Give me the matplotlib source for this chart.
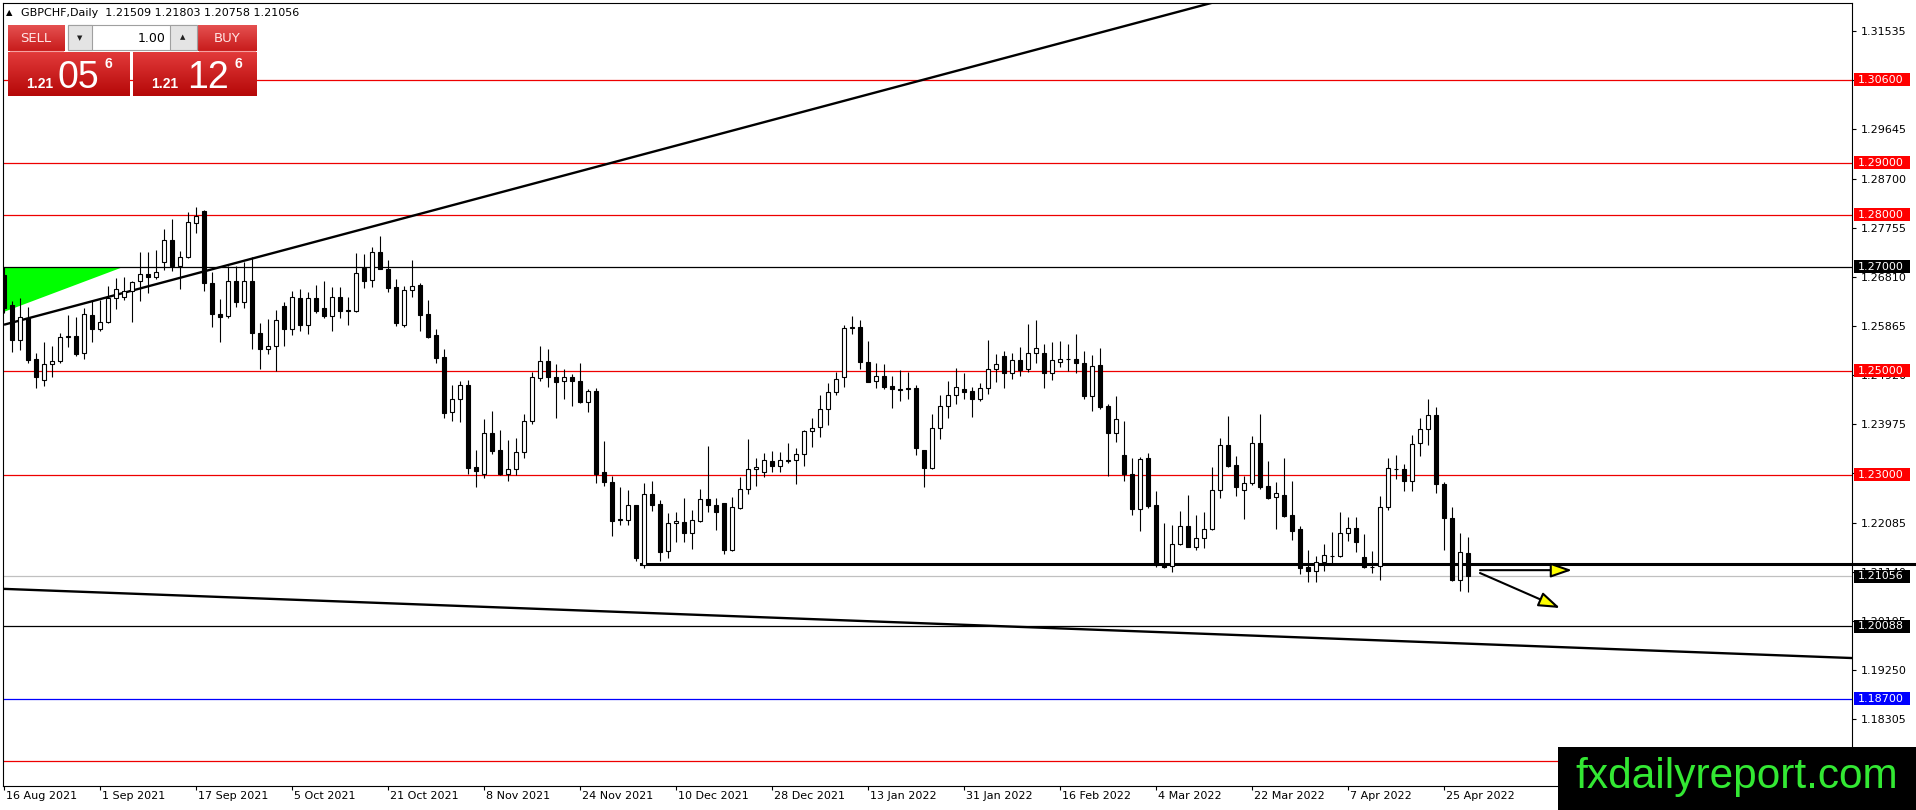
import matplotlib
matplotlib.use("Agg")
import matplotlib.pyplot as plt
import matplotlib.transforms as mtransforms
import matplotlib.colors as mcolors
from matplotlib.patches import Rectangle, Polygon
import numpy as np

# ---------------- data ----------------
opens = [1.2685, 1.2627, 1.2560, 1.2601, 1.2524, 1.2483, 1.2514, 1.2519, 1.2566, 1.2567,
         1.2534, 1.2608, 1.2580, 1.2594, 1.2641, 1.2642, 1.2654, 1.2674, 1.2687, 1.2681,
         1.2709, 1.2752, 1.2701, 1.2719, 1.2785, 1.2808, 1.2669, 1.2609, 1.2606, 1.2674,
         1.2632, 1.2673, 1.2574, 1.2542, 1.2548, 1.2625, 1.2580, 1.2640, 1.2588, 1.2640,
         1.2621, 1.2605, 1.2642, 1.2616, 1.2616, 1.2699, 1.2675, 1.2728, 1.2697, 1.2661,
         1.2589, 1.2656, 1.2665, 1.2609, 1.2569, 1.2526, 1.2421, 1.2446, 1.2473, 1.2315,
         1.2301, 1.2380, 1.2348, 1.2301, 1.2311, 1.2344, 1.2403, 1.2486, 1.2519, 1.2488,
         1.2481, 1.2489, 1.2481, 1.2441, 1.2462, 1.2306, 1.2286, 1.2214, 1.2213, 1.2242,
         1.2127, 1.2263, 1.2244, 1.2153, 1.2207, 1.2209, 1.2188, 1.2212, 1.2253, 1.2242,
         1.2246, 1.2156, 1.2237, 1.2274, 1.2311, 1.2305, 1.2327, 1.2318, 1.2327, 1.2328,
         1.2340, 1.2385, 1.2393, 1.2426, 1.2459, 1.2489, 1.2583, 1.2584, 1.2517, 1.2481,
         1.2491, 1.2471, 1.2465, 1.2467, 1.2467, 1.2348, 1.2313, 1.2390, 1.2433, 1.2454,
         1.2465, 1.2462, 1.2447, 1.2467, 1.2503, 1.2529, 1.2497, 1.2521, 1.2503, 1.2534,
         1.2534, 1.2497, 1.2518, 1.2523, 1.2524, 1.2515, 1.2451, 1.2512, 1.2433, 1.2380,
         1.2338, 1.2301, 1.2234, 1.2332, 1.2242, 1.2129, 1.2125, 1.2167, 1.2202, 1.2162,
         1.2179, 1.2196, 1.2271, 1.2358, 1.2319, 1.2271, 1.2284, 1.2361, 1.2279, 1.2257,
         1.2262, 1.2223, 1.2196, 1.2124, 1.2116, 1.2132, 1.2145, 1.2145, 1.2188, 1.2199,
         1.2142, 1.2124, 1.2125, 1.2239, 1.2312, 1.2311, 1.2289, 1.2361, 1.2388, 1.2415,
         1.2282, 1.2217, 1.2098, 1.21509]
highs = [1.2700, 1.2634, 1.2640, 1.2624, 1.2535, 1.2556, 1.2548, 1.2574, 1.2608, 1.2603,
         1.2622, 1.2637, 1.2637, 1.2663, 1.2679, 1.2681, 1.2674, 1.2729, 1.2729, 1.2733,
         1.2774, 1.2793, 1.2731, 1.2806, 1.2815, 1.2810, 1.2690, 1.2639, 1.2701, 1.2701,
         1.2710, 1.2719, 1.2592, 1.2600, 1.2617, 1.2633, 1.2653, 1.2658, 1.2651, 1.2665,
         1.2673, 1.2662, 1.2661, 1.2643, 1.2726, 1.2725, 1.2739, 1.2760, 1.2713, 1.2677,
         1.2664, 1.2713, 1.2669, 1.2637, 1.2580, 1.2542, 1.2473, 1.2481, 1.2483, 1.2349,
         1.2408, 1.2423, 1.2387, 1.2367, 1.2371, 1.2417, 1.2499, 1.2548, 1.2542, 1.2513,
         1.2504, 1.2494, 1.2515, 1.2465, 1.2467, 1.2365, 1.2299, 1.2276, 1.2271, 1.2243,
         1.2284, 1.2288, 1.2252, 1.2226, 1.2228, 1.2255, 1.2233, 1.2274, 1.2356, 1.2255,
         1.2247, 1.2257, 1.2296, 1.2369, 1.2333, 1.2343, 1.2346, 1.2344, 1.2361, 1.2351,
         1.2387, 1.2409, 1.2453, 1.2476, 1.2499, 1.2588, 1.2606, 1.2598, 1.2558, 1.2515,
         1.2513, 1.2490, 1.2502, 1.2499, 1.2473, 1.2349, 1.2417, 1.2454, 1.2481, 1.2505,
         1.2496, 1.2470, 1.2476, 1.2560, 1.2532, 1.2539, 1.2534, 1.2546, 1.2590, 1.2598,
         1.2552, 1.2556, 1.2558, 1.2552, 1.2571, 1.2538, 1.2531, 1.2544, 1.2436, 1.2451,
         1.2404, 1.2332, 1.2335, 1.2343, 1.2270, 1.2208, 1.2204, 1.2231, 1.2262, 1.2223,
         1.2228, 1.2316, 1.2372, 1.2414, 1.2337, 1.2299, 1.2375, 1.2417, 1.2326, 1.2286,
         1.2332, 1.2288, 1.2201, 1.2156, 1.2144, 1.2167, 1.2191, 1.2228, 1.2219, 1.2219,
         1.2186, 1.2154, 1.2260, 1.2332, 1.2338, 1.2322, 1.2377, 1.2410, 1.2446, 1.2431,
         1.2287, 1.2238, 1.2188, 1.21803]
lows = [1.2612, 1.2537, 1.2540, 1.2515, 1.2468, 1.2472, 1.2488, 1.2515, 1.2547, 1.2528,
        1.2524, 1.2556, 1.2577, 1.2592, 1.2620, 1.2637, 1.2595, 1.2634, 1.2650, 1.2676,
        1.2695, 1.2692, 1.2658, 1.2717, 1.2765, 1.2653, 1.2584, 1.2556, 1.2601, 1.2624,
        1.2622, 1.2542, 1.2503, 1.2533, 1.2500, 1.2549, 1.2569, 1.2576, 1.2571, 1.2611,
        1.2601, 1.2576, 1.2601, 1.2588, 1.2614, 1.2660, 1.2662, 1.2696, 1.2651, 1.2587,
        1.2585, 1.2643, 1.2576, 1.2564, 1.2515, 1.2410, 1.2403, 1.2401, 1.2301, 1.2276,
        1.2294, 1.2340, 1.2300, 1.2289, 1.2300, 1.2332, 1.2398, 1.2481, 1.2470, 1.2410,
        1.2446, 1.2433, 1.2438, 1.2421, 1.2284, 1.2278, 1.2183, 1.2204, 1.2204, 1.2135,
        1.2122, 1.2231, 1.2135, 1.2140, 1.2172, 1.2172, 1.2158, 1.2210, 1.2229, 1.2194,
        1.2149, 1.2154, 1.2235, 1.2263, 1.2279, 1.2297, 1.2305, 1.2306, 1.2324, 1.2282,
        1.2318, 1.2354, 1.2374, 1.2396, 1.2454, 1.2470, 1.2572, 1.2504, 1.2478, 1.2467,
        1.2465, 1.2428, 1.2442, 1.2446, 1.2338, 1.2276, 1.2312, 1.2369, 1.2409, 1.2436,
        1.2446, 1.2412, 1.2443, 1.2455, 1.2478, 1.2467, 1.2484, 1.2490, 1.2499, 1.2516,
        1.2467, 1.2483, 1.2508, 1.2500, 1.2497, 1.2447, 1.2424, 1.2426, 1.2299, 1.2363,
        1.2289, 1.2224, 1.2193, 1.2236, 1.2124, 1.2121, 1.2113, 1.2165, 1.2161, 1.2155,
        1.2160, 1.2194, 1.2256, 1.2316, 1.2260, 1.2215, 1.2281, 1.2274, 1.2253, 1.2196,
        1.2219, 1.2175, 1.2110, 1.2094, 1.2095, 1.2116, 1.2130, 1.2142, 1.2174, 1.2151,
        1.2121, 1.2112, 1.2099, 1.2233, 1.2292, 1.2270, 1.2270, 1.2337, 1.2358, 1.2265,
        1.2156, 1.2097, 1.2076, 1.20758]
closes = [1.2622, 1.2560, 1.2603, 1.2521, 1.2488, 1.2514, 1.2519, 1.2566, 1.2567, 1.2532,
          1.2609, 1.2580, 1.2594, 1.2640, 1.2658, 1.2653, 1.2672, 1.2687, 1.2680, 1.2690,
          1.2752, 1.2701, 1.2719, 1.2787, 1.2799, 1.2669, 1.2609, 1.2604, 1.2674, 1.2632,
          1.2673, 1.2574, 1.2542, 1.2548, 1.2598, 1.2580, 1.2642, 1.2588, 1.2640, 1.2616,
          1.2605, 1.2642, 1.2616, 1.2617, 1.2688, 1.2674, 1.2728, 1.2697, 1.2659, 1.2593,
          1.2656, 1.2663, 1.2608, 1.2566, 1.2525, 1.2420, 1.2446, 1.2473, 1.2314, 1.2308,
          1.2380, 1.2347, 1.2301, 1.2311, 1.2344, 1.2403, 1.2488, 1.2519, 1.2488, 1.2478,
          1.2489, 1.2481, 1.2440, 1.2462, 1.2301, 1.2286, 1.2212, 1.2215, 1.2242, 1.2140,
          1.2263, 1.2242, 1.2151, 1.2207, 1.2212, 1.2188, 1.2213, 1.2253, 1.2242, 1.2228,
          1.2156, 1.2238, 1.2274, 1.2311, 1.2316, 1.2328, 1.2318, 1.2328, 1.2328, 1.2340,
          1.2385, 1.2391, 1.2426, 1.2459, 1.2484, 1.2582, 1.2584, 1.2518, 1.2479, 1.2491,
          1.2470, 1.2465, 1.2464, 1.2465, 1.2351, 1.2313, 1.2390, 1.2433, 1.2454, 1.2469,
          1.2459, 1.2447, 1.2467, 1.2503, 1.2513, 1.2497, 1.2521, 1.2502, 1.2534, 1.2544,
          1.2497, 1.2522, 1.2524, 1.2523, 1.2516, 1.2451, 1.2510, 1.2431, 1.2380, 1.2407,
          1.2301, 1.2234, 1.2330, 1.2241, 1.2127, 1.2124, 1.2167, 1.2202, 1.2162, 1.2179,
          1.2196, 1.2271, 1.2358, 1.2318, 1.2276, 1.2284, 1.2361, 1.2276, 1.2256, 1.2265,
          1.2221, 1.2193, 1.2122, 1.2116, 1.2132, 1.2146, 1.2145, 1.2188, 1.2199, 1.2172,
          1.2124, 1.2123, 1.2239, 1.2313, 1.2311, 1.2289, 1.2360, 1.2388, 1.2415, 1.2282,
          1.2217, 1.2099, 1.2151, 1.21056]

date_labels = ["16 Aug 2021", "1 Sep 2021", "17 Sep 2021", "5 Oct 2021", "21 Oct 2021",
               "8 Nov 2021", "24 Nov 2021", "10 Dec 2021", "28 Dec 2021", "13 Jan 2022",
               "31 Jan 2022", "16 Feb 2022", "4 Mar 2022", "22 Mar 2022", "7 Apr 2022",
               "25 Apr 2022"]
bars_per_label = 12

red_levels = [1.30600, 1.29000, 1.28000, 1.25000, 1.23000, 1.17500]
black_levels = [1.27000, 1.20088]
blue_levels = [1.18700]
bid_price = 1.21056
support_level = 1.21290
support_start_bar = 79.6
red_labels = [1.30600, 1.29000, 1.28000, 1.25000, 1.23000]

ytick_top = 1.31535
ytick_step = 0.00945
ytick_count = 16

upper_trend = ([0.0, 150.0], [1.2589, 1.3204])
lower_trend = ([0.0, 231.0], [1.2081, 1.1948])
green_triangle = [(-0.3, 1.2700), (14.9, 1.2700), (-0.3, 1.2612)]
arrow_flat = ((184.5, 1.2117), (196.0, 1.2117))
arrow_down = ((184.5, 1.21115), (194.5, 1.20442))

header = "GBPCHF,Daily  1.21509 1.21803 1.20758 1.21056"

# ---------------- figure ----------------
W, H = 1916, 810
fig = plt.figure(figsize=(W / 100, H / 100), dpi=100)
fig.patch.set_facecolor("white")
plt.rcParams["font.family"] = ["DejaVu Sans"]

PL, PR, PT, PB = 3, 1852, 3, 786
ax = fig.add_axes([PL / W, 1 - PB / H, (PR - PL) / W, (PB - PT) / H])
ax.set_facecolor("white")
ax.set_xlim(-0.125, 231.0)
ax.set_ylim(1.170192, 1.320769)
for s in ax.spines.values():
    s.set_color("black")
    s.set_linewidth(0.8)

O = np.array(opens); Hh = np.array(highs); Lw = np.array(lows); C = np.array(closes)
x = np.arange(len(O))

# green triangle
ax.add_patch(Polygon(green_triangle, closed=True, facecolor="#00ff00", edgecolor="none", zorder=1))

# horizontal levels
for lv in red_levels:
    ax.axhline(lv, color="#ee0000", lw=0.9, zorder=2)
for lv in black_levels:
    ax.axhline(lv, color="black", lw=0.9, zorder=2)
for lv in blue_levels:
    ax.axhline(lv, color="#0000ff", lw=0.9, zorder=2)
ax.axhline(bid_price, color="#c0c0c0", lw=0.9, zorder=2)

# trend lines
slope_up = (upper_trend[1][1] - upper_trend[1][0]) / (upper_trend[0][1] - upper_trend[0][0])
ax.plot([upper_trend[0][0], 160.0], [upper_trend[1][0], upper_trend[1][0] + slope_up * 160.0],
        color="black", lw=1.7, zorder=2.5, solid_capstyle="butt")
ax.plot(lower_trend[0], lower_trend[1], color="black", lw=1.7, zorder=2.5)
ax.plot([support_start_bar, 239.0], [support_level, support_level], color="black", lw=2.2,
        zorder=2.6, clip_on=False)

# candles
ax.vlines(x, Lw, Hh, color="black", lw=0.8, zorder=3)
up = C >= O
ax.bar(x, np.abs(C - O), bottom=np.minimum(O, C), width=0.62,
       color=np.where(up, "white", "black"), edgecolor="black", linewidth=0.8, zorder=4)

# arrows
for (p0, p1) in (arrow_flat, arrow_down):
    ax.annotate("", xy=p1, xytext=p0,
                arrowprops=dict(arrowstyle="-|>,head_length=1.3,head_width=0.45", mutation_scale=10,
                                fc="#ffff00", ec="black", lw=1.5, shrinkA=0, shrinkB=0),
                zorder=5)

# y axis ticks on right
yt = [ytick_top - k * ytick_step for k in range(ytick_count)]
ax.yaxis.tick_right()
ax.set_yticks(yt)
ax.set_yticklabels([f"{v:.5f}" for v in yt])
ax.tick_params(axis="y", right=True, left=False, labelright=True, labelleft=False,
               length=3, width=0.8, pad=3, labelsize=8, colors="black", direction="out")

# x axis ticks + labels
xpos = [k * bars_per_label for k in range(len(date_labels))]
ax.set_xticks(xpos)
ax.set_xticklabels([""] * len(xpos))
ax.tick_params(axis="x", bottom=True, length=3, width=0.8, direction="out")
bt = mtransforms.blended_transform_factory(ax.transData, ax.transAxes)
off = mtransforms.ScaledTranslation(2 / 100, -5 / 100, fig.dpi_scale_trans)
for p, lab in zip(xpos, date_labels):
    ax.text(p, 0, lab, transform=bt + off, ha="left", va="top", fontsize=8, color="black",
            clip_on=False)

# price boxes
rt = mtransforms.blended_transform_factory(ax.transAxes, ax.transData)
aw = PR - PL
box_h = 13 / 5200.0
def price_box(price, color):
    ax.add_patch(Rectangle((1 + 2 / aw, price - box_h / 2), 56 / aw, box_h, transform=rt,
                           facecolor=color, edgecolor="none", clip_on=False, zorder=8))
    ax.text(1 + 6 / aw, price, f"{price:.5f}", transform=rt, ha="left", va="center",
            fontsize=8, color="white", clip_on=False, zorder=9)

for lv in red_labels:
    price_box(lv, "#ff0000")
price_box(1.27000, "black")
price_box(bid_price, "black")
price_box(1.20088, "black")
price_box(1.18700, "#0000ff")

# ---------------- overlay (pixel coords) ----------------
ov = fig.add_axes([0, 0, 1, 1])
ov.set_zorder(10)
ov.patch.set_alpha(0)
ov.axis("off")

def grad_rect(x0, y0, x1, y1, top, bot, z=2):
    g = np.linspace(0, 1, 40)[:, None, None]
    c0 = np.array(mcolors.to_rgb(top)); c1 = np.array(mcolors.to_rgb(bot))
    img = c0 * (1 - g) + c1 * g
    ov.imshow(img, extent=(x0, x1, y1, y0), aspect="auto", interpolation="bilinear", zorder=z)

# header
ov.text(6, 13, "\u25B2", fontsize=6, ha="left", va="center", color="black")
ov.text(21, 13, header, fontsize=8, ha="left", va="center", color="black")

# one-click panel
grad_rect(8, 25, 65, 51, "#e55050", "#c81c1c")
grad_rect(197, 25, 257, 51, "#e55050", "#c81c1c")
grad_rect(8, 52, 130, 96, "#e23a3a", "#b50808")
grad_rect(133, 52, 257, 96, "#e23a3a", "#b50808")
ov.plot([10, 63], [51, 51], color="#f5a0a0", lw=0.8, zorder=3)
ov.plot([199, 255], [51, 51], color="#f5a0a0", lw=0.8, zorder=3)
ov.text(36, 38, "SELL", fontsize=9.5, color="#ffe4e4", ha="center", va="center", zorder=4)
ov.text(227, 38, "BUY", fontsize=9.5, color="#ffe4e4", ha="center", va="center", zorder=4)
ov.add_patch(Rectangle((68, 25), 129, 25, facecolor="white", edgecolor="#a0a0a0", lw=0.8, zorder=3))
ov.add_patch(Rectangle((68, 25), 24, 25, facecolor="#e4e4e4", edgecolor="#a0a0a0", lw=0.8, zorder=3))
ov.add_patch(Rectangle((170, 25), 27, 25, facecolor="#e4e4e4", edgecolor="#a0a0a0", lw=0.8, zorder=3))
ov.text(80, 38, "\u25BC", fontsize=5, ha="center", va="center", color="#202020", zorder=4)
ov.text(183, 37, "\u25B2", fontsize=5, ha="center", va="center", color="#202020", zorder=4)
ov.text(166, 38, "1.00", fontsize=9, ha="right", va="center", color="black", zorder=4)

for (xs, xb, xsup, big) in ((26, 58, 105, "05"), (151, 187, 235, "12")):
    ov.text(xs, 88, "1.21", fontsize=10, fontweight="bold", family="Liberation Sans",
            color="white", ha="left", va="baseline", zorder=4)
    ov.text(xb, 88, big, fontsize=27, family="Liberation Sans", color="white", ha="left",
            va="baseline", zorder=4)
    ov.text(xsup, 68, "6", fontsize=10, fontweight="bold", family="Liberation Sans",
            color="white", ha="left", va="baseline", zorder=4)

# watermark
ov.add_patch(Rectangle((1558, 747), 358, 63, facecolor="black", edgecolor="none", zorder=5))
ov.text(1575, 788, "fxdailyreport.com", fontsize=30.5, family="Liberation Sans",
        color="#33e833", ha="left", va="baseline", zorder=6)

ov.set_xlim(0, W)
ov.set_ylim(H, 0)

fig.savefig("out.png", dpi=100, facecolor="white")
